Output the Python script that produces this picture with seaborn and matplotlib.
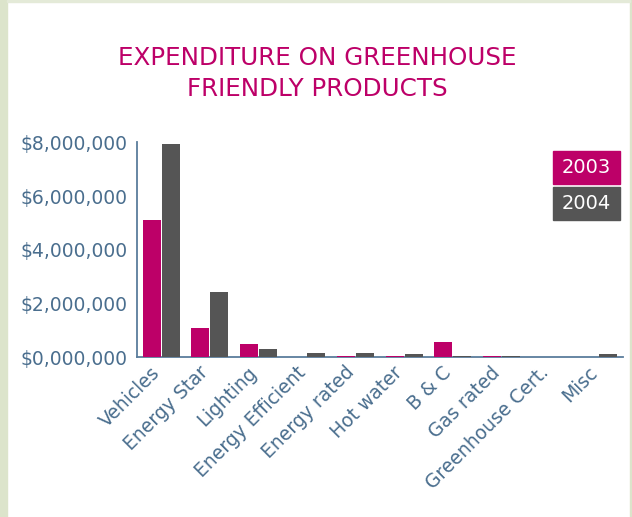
import matplotlib
matplotlib.use("Agg")
import matplotlib.pyplot as plt
from matplotlib.patches import Rectangle
from matplotlib.ticker import FixedLocator
from matplotlib.transforms import ScaledTranslation
import pandas as pd
import seaborn as sns

# Spending per product group, in dollars
categories = ["Vehicles", "Energy Star", "Lighting", "Energy Efficient", "Energy rated",
              "Hot water", "B & C", "Gas rated", "Greenhouse Cert.", "Misc"]
years = ["2003", "2004"]
spend_2003 = [5_100_000, 1_090_000, 490_000, 0, 60_000, 60_000, 570_000, 60_000, 0, 0]
spend_2004 = [7_920_000, 2_430_000, 310_000, 160_000, 160_000, 125_000, 60_000, 60_000, 0, 120_000]

ytick_values = [0, 2_000_000, 4_000_000, 6_000_000, 8_000_000]
ytick_labels = ["$0,000,000", "$2,000,000", "$4,000,000", "$6,000,000", "$8,000,000"]
title_lines = ["EXPENDITURE ON GREENHOUSE", "FRIENDLY PRODUCTS"]

MAGENTA = "#BD0068"
GREY = "#555555"
AXIS_BLUE = "#5A7D9C"
LABEL_BLUE = "#4A6E8E"
FRAME_GREEN = "#DCE4CB"

df = pd.DataFrame({
    "category": categories * 2,
    "year": [years[0]] * len(categories) + [years[1]] * len(categories),
    "spend": spend_2003 + spend_2004,
})

sns.set_theme(style="white")
plt.rcParams["font.family"] = ["DejaVu Sans"]

W, H = 632, 517
fig = plt.figure(figsize=(W / 100, H / 100), dpi=100)
fig.patch.set_facecolor("white")

# page frame strips
fig.patches.append(Rectangle((0, 0), 6.5 / W, 1, transform=fig.transFigure, color=FRAME_GREEN, zorder=0))
fig.patches.append(Rectangle((629.5 / W, 0), 2.5 / W, 1, transform=fig.transFigure, color=FRAME_GREEN, zorder=0))
fig.patches.append(Rectangle((6.5 / W, 1 - 2 / H), 623 / W, 2 / H, transform=fig.transFigure, color="#E4EAD8", zorder=0))

x0, x1 = 137, 622.7
y_top, y_base = 142.3, 357.3
ax = fig.add_axes([x0 / W, 1 - y_base / H, (x1 - x0) / W, (y_base - y_top) / H])
ax.set_facecolor("white")

sns.barplot(data=df, x="category", y="spend", hue="year", order=categories, hue_order=years,
            palette=[MAGENTA, GREY], saturation=1, width=0.78, gap=0.05, linewidth=0,
            errorbar=None, legend=False, ax=ax)
for bar in ax.patches:
    bar.set_zorder(3)

ax.set_xlim(-0.5, len(categories) - 0.5)
ax.set_ylim(0, 8_000_000)
ax.set_xlabel("")
ax.set_ylabel("")

for side in ["top", "right"]:
    ax.spines[side].set_visible(False)
for side in ["left", "bottom"]:
    ax.spines[side].set_color(AXIS_BLUE)
    ax.spines[side].set_linewidth(1.3)
    ax.spines[side].set_zorder(2)

ax.set_yticks(ytick_values)
ax.set_yticklabels(ytick_labels)
ax.tick_params(axis="y", direction="in", length=9.5, width=1.5, color=AXIS_BLUE,
               pad=6.5, labelsize=13.5, labelcolor=LABEL_BLUE)

ax.set_xticks(range(len(categories)))
ax.set_xticklabels(categories, rotation=45, ha="right", rotation_mode="anchor")
ax.tick_params(axis="x", which="major", length=0, pad=4, labelsize=13.5, labelcolor=LABEL_BLUE)
shift = ScaledTranslation(-11 / 100, 0, fig.dpi_scale_trans)
for lbl in ax.get_xticklabels():
    lbl.set_transform(lbl.get_transform() + shift)
ax.xaxis.set_minor_locator(FixedLocator([i + 0.5 for i in range(len(categories))]))
ax.tick_params(axis="x", which="minor", direction="in", length=4.5, width=1.2, color=AXIS_BLUE)

# year key: coloured boxes with white year text
for i, (label, col) in enumerate(zip(years, [MAGENTA, GREY])):
    top = 151 + i * 36
    fig.patches.append(Rectangle((553 / W, 1 - (top + 33) / H), 67 / W, 33 / H,
                                 transform=fig.transFigure, color=col, zorder=3))
    fig.text(586.5 / W, 1 - (top + 16.5) / H, label, ha="center", va="center",
             fontsize=14, color="white", zorder=4)

# two-line title
for i, line in enumerate(title_lines):
    fig.text(317.5 / W, 1 - (65 + 31.5 * i) / H, line, ha="center", va="baseline",
             fontsize=17.7, color=MAGENTA)

fig.savefig("out.png", dpi=100)
